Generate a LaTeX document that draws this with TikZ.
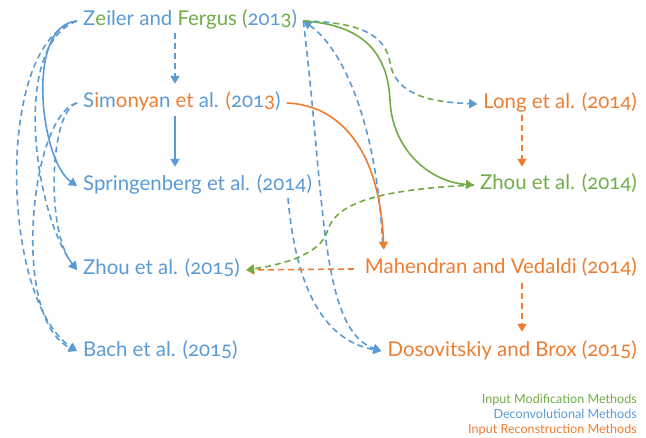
\documentclass[tikz,border=0pt]{standalone}
\usepackage{fontspec}
\setmainfont{Lato}[Numbers=OldStyle]
\usetikzlibrary{arrows.meta,calc}
\definecolor{cblue}{RGB}{91,155,213}
\definecolor{cgreen}{RGB}{112,173,71}
\definecolor{corange}{RGB}{237,125,49}
\begin{document}
\begin{tikzpicture}[x=1bp,y=1bp,
  lab/.style={inner xsep=6bp, inner ysep=0pt, text height=14bp, text depth=4bp, font=\fontsize{20.4bp}{22bp}\selectfont},
  leg/.style={inner xsep=6bp, inner ysep=0pt, font=\fontsize{12.6bp}{14bp}\selectfont, anchor=base east},
  conn/.style={line width=1.6bp, -{Triangle[length=8bp,width=9bp]}},
  dsh/.style={conn, dash pattern=on 6bp off 4bp},
  mixdash/.style={dash pattern=on 6bp off 4bp on 6bp off 4bp on 6bp off 34bp},
]
\fill[white] (0,0) rectangle (646,-438);
\useasboundingbox (0,0) rectangle (646,-438);

% nodes
\node[lab, anchor=base west, text=cblue] (zf) at (77,-26) {Z\textcolor{cgreen}{e}iler and \textcolor{cgreen}{Fergus} \textcolor{cgreen}{(}201\textcolor{cgreen}{3})};
\node[lab, anchor=base west, text=cblue] (si) at (77,-108) {S\textcolor{corange}{i}m\textcolor{corange}{onya}n \textcolor{corange}{et} al. \textcolor{corange}{(}201\textcolor{corange}{3})};
\node[lab, anchor=base west, text=cblue] (sp) at (77,-191) {Springenberg et al. (2014)};
\node[lab, anchor=base west, text=cblue] (zl) at (77,-275) {Zhou et al. (2015)};
\node[lab, anchor=base west, text=cblue] (ba) at (77,-356) {Bach et al. (2015)};
\node[lab, anchor=base east, text=corange] (lo) at (643,-109) {Long et al. (2014)};
\node[lab, anchor=base east, text=cgreen] (zh) at (643,-190) {Zhou et al. (2014)};
\node[lab, anchor=base east, text=corange] (ma) at (643,-274) {Mahendran and Vedaldi (2014)};
\node[lab, anchor=base east, text=corange] (db) at (643,-356) {Dosovitskiy and Brox (2015)};

\node[leg, text=cgreen] (l1) at (643,-403) {Input Modification Methods};
\node[leg, text=cblue] (l2) at (643,-418) {Deconvolutional Methods};
\node[leg, text=corange] (l3) at (643,-433) {Input Reconstruction Methods};

% left arcs
\draw[conn, cblue] (zf.west) .. controls (25,-25) and (40,-160) .. (sp.west);
\draw[dsh, cblue] (zf.west) .. controls (-5,-40) and (0,-300) .. (ba.west);
\draw[dsh, cblue] (zf.west) .. controls (10,-45) and (35,-215) .. (zl.west);
\draw[dsh, cblue] (si.west) .. controls (30,-115) and (10,-320) .. (ba.west);
\draw[dsh, cblue] (si.west) .. controls (50,-110) and (45,-230) .. (zl.west);

% vertical connectors
\draw[dsh, cblue] ([shift={(98,-3)}]zf.south west) -- ([shift={(98,10)}]si.north west);
\draw[conn, cblue] ([shift={(98,-4)}]si.south west) -- ([shift={(98,10)}]sp.north west);
\draw[dsh, corange] ([shift={(-121,-2)}]lo.south east) -- ([shift={(-121,9)}]zh.north east);
\draw[dsh, corange] ([shift={(-121,-5)}]ma.south east) -- ([shift={(-121,10)}]db.north east);

% Zeiler -> Long (mixed dashes)
\coordinate (w1) at (390,-62);
\draw[dsh, cgreen, mixdash, dash phase=30bp] (zf.east) .. controls (360,-22) and (385,-35) .. (w1) .. controls (395,-95) and (430,-102) .. (lo.west);
\draw[dsh, cblue, mixdash] (zf.east) .. controls (360,-22) and (385,-35) .. (w1) .. controls (395,-95) and (430,-102) .. (lo.west);

% Zeiler <- Mahendran (blue dashed)
\draw[cblue, line width=1.6bp, dash pattern=on 6bp off 4bp, {Triangle[length=8bp,width=9bp]}-] (zf.east) .. controls (345,-50) and (378,-130) .. ([shift={(24,12)}]ma.north west);
% Simonyan -> Mahendran
\draw[conn, corange] (si.east) .. controls (340,-105) and (380,-150) .. ([shift={(25,10)}]ma.north west);

% to Dosovitskiy
\draw[dsh, cblue] (zf.east) .. controls (325,-200) and (320,-330) .. (db.west);
\draw[dsh, cblue] ([shift={(211,-3)}]sp.south west) .. controls (295,-280) and (320,-340) .. (db.west);

% Mahendran -> Zhou 2015
\draw[dsh, corange] ([xshift=-5bp]ma.west) -- (zl.east);
% Zhou 2014 -> Zhou 2015
\coordinate (w3) at (327,-232);
\draw[dsh, cgreen] (zh.west) .. controls (370,-190) and (335,-205) .. (w3) .. controls (320,-255) and (280,-265) .. (zl.east);

% Zeiler -> Zhou 2014
\coordinate (w2) at (390,-100);
\draw[conn, cgreen] (zf.east) .. controls (370,-25) and (388,-60) .. (w2) .. controls (392,-150) and (430,-182) .. (zh.west);
\end{tikzpicture}
\end{document}
